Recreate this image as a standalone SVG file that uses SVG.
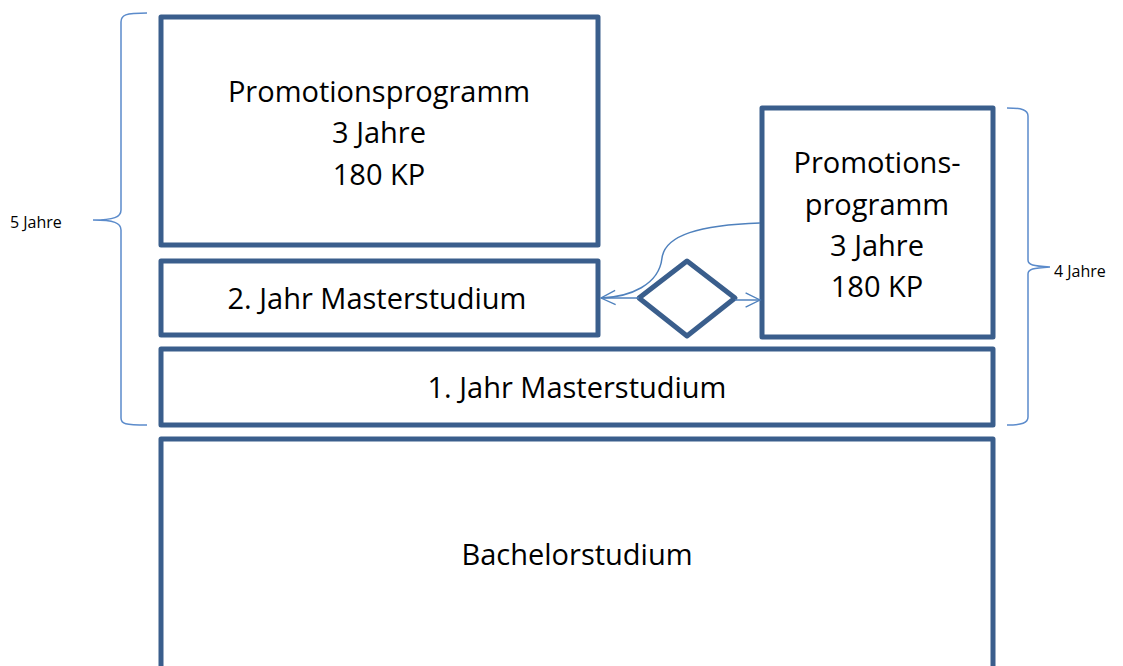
<svg xmlns="http://www.w3.org/2000/svg" width="1123" height="666" viewBox="0 0 1123 666">
<style>
.box{fill:#fff;stroke:#3A5E8C;stroke-width:5;stroke-linejoin:round}
.t{font-family:"Open Sans","Liberation Sans",Arial,sans-serif;font-size:29px;fill:#000;text-anchor:middle}
.s{font-family:"Open Sans","Liberation Sans",Arial,sans-serif;font-size:16px;fill:#000}
.br{fill:none;stroke:#5B8BCB;stroke-width:1.5}
.c{fill:none;stroke:#4F81BD;stroke-width:1.5}
</style>
<defs>
<marker id="open" viewBox="0 0 20 20" refX="18" refY="10" markerWidth="18" markerHeight="18" markerUnits="userSpaceOnUse" orient="auto">
<path d="M2,2 L18,10 L2,18" fill="none" stroke="#4F81BD" stroke-width="1.5"/>
</marker>
</defs>
<g id="bachelor"><rect class="box" x="161" y="439" width="832" height="240"/><text class="t" x="577" y="565">Bachelorstudium</text></g>
<g id="jahr1"><rect class="box" x="161" y="349" width="832" height="76"/><text class="t" x="577" y="398">1. Jahr Masterstudium</text></g>
<g id="jahr2"><rect class="box" x="161" y="261" width="437" height="74"/><text class="t" x="377" y="309">2. Jahr Masterstudium</text></g>
<g id="promo5"><rect class="box" x="161" y="17" width="437" height="228"/><text class="t" x="379" y="102">Promotionsprogramm</text><text class="t" x="379" y="143">3 Jahre</text><text class="t" x="379" y="185">180 KP</text></g>
<g id="promo4"><rect class="box" x="762" y="108" width="231" height="229"/><text class="t" x="877" y="173">Promotions-</text><text class="t" x="877" y="215">programm</text><text class="t" x="877" y="256">3 Jahre</text><text class="t" x="877" y="297">180 KP</text></g>
<g id="decision"><polygon class="box" points="687,261 735,298 687,336 639,298"/></g>
<g id="connectors">
<path class="c" d="M760,223 C700,225 665,235 662,258 C659,285 630,297 601,298" marker-end="url(#open)"/>
<path class="c" d="M639,298 L601,298"/>
<path class="c" d="M735,300 L760,300" marker-end="url(#open)"/>
</g>
<g id="brace5"><path class="br" d="M147,13 C125,13 121,15 121,22 L121,210 C121,217 114,220 93,220 C114,220 121,223 121,230 L121,418 C121,424 125,425 147,425"/><text class="s" x="10" y="228">5 Jahre</text></g>
<g id="brace4"><path class="br" d="M1007,108 C1022,108 1028,110 1028,116 L1028,260 C1028,265 1033,266 1050,267 C1033,268 1028,269 1028,274 L1028,417 C1028,423 1022,425 1007,425"/><text class="s" x="1054" y="277">4 Jahre</text></g>
</svg>
